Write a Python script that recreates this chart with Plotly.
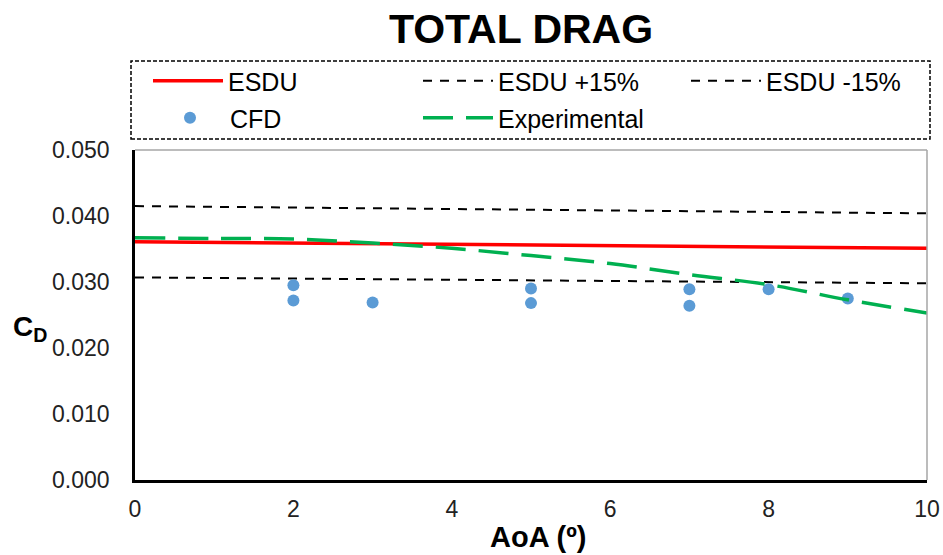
import plotly.graph_objects as go

# ---- data ----
aoa_line = [0, 1, 2, 3, 4, 5, 6, 7, 8, 9, 10]
esdu = [0.0361, 0.0360, 0.0359, 0.0358, 0.0357, 0.0356, 0.0355, 0.0354, 0.0353, 0.0352, 0.0351]
esdu_plus15 = [0.0415, 0.0414, 0.0413, 0.0412, 0.0411, 0.0409, 0.0408, 0.0407, 0.0406, 0.0405, 0.0404]
esdu_minus15 = [0.0307, 0.0306, 0.0305, 0.0304, 0.0303, 0.0303, 0.0302, 0.0301, 0.0300, 0.0299, 0.0298]
experimental = [0.0367, 0.0366, 0.0365, 0.0359, 0.0351, 0.0340, 0.0328, 0.0311, 0.0296, 0.0273, 0.0253]

cfd_aoa = [2, 2, 3, 5, 5, 7, 7, 8, 9]
cfd_cd = [0.0295, 0.0272, 0.0269, 0.0290, 0.0268, 0.0289, 0.0264, 0.0289, 0.0275]

x_ticks = [0, 2, 4, 6, 8, 10]
y_ticks = [0.0, 0.01, 0.02, 0.03, 0.04, 0.05]

FONT = "Liberation Sans, Arial, sans-serif"

fig = go.Figure()
fig.add_trace(go.Scatter(x=aoa_line, y=esdu_plus15, mode="lines", name="ESDU +15%",
                         line=dict(color="black", width=2, dash="9px,8px"), legend="legend2"))
fig.add_trace(go.Scatter(x=aoa_line, y=esdu_minus15, mode="lines", name="ESDU -15%",
                         line=dict(color="black", width=2, dash="9px,8px"), legend="legend3"))
fig.add_trace(go.Scatter(x=cfd_aoa, y=cfd_cd, mode="markers", name="CFD",
                         marker=dict(color="#5B9BD5", size=12), legend="legend4"))
fig.add_trace(go.Scatter(x=aoa_line, y=esdu, mode="lines", name="ESDU",
                         line=dict(color="#FF0000", width=3.5), legend="legend"))
fig.add_trace(go.Scatter(x=aoa_line, y=experimental, mode="lines", name="Experimental",
                         line=dict(color="#00B050", width=3.5, dash="30px,13px", shape="spline"),
                         legend="legend5"))

L, R, T, B = 135, 16, 150, 75
W, H = 943, 555
pw, ph = W - L - R, H - T - B

def px2x(px):
    return (px - L) / pw

def py2y(py):
    return (H - B - py) / ph

def cx(px):
    return px / W

def cy(py):
    return 1 - py / H

leg_common = dict(font=dict(family=FONT, size=25, color="black"), bgcolor="rgba(0,0,0,0)",
                  borderwidth=0, xanchor="left", yanchor="middle", itemwidth=70,
                  visible=True, xref="container", yref="container")
fig.update_layout(
    showlegend=True,
    legend=dict(x=cx(148), y=cy(81), **leg_common),
    legend2=dict(x=cx(418), y=cy(81), **leg_common),
    legend3=dict(x=cx(686), y=cy(81), **leg_common),
    legend4=dict(x=cx(150), y=cy(118), **leg_common),
    legend5=dict(x=cx(418), y=cy(118), **leg_common),
)

fig.update_layout(
    width=W, height=H,
    margin=dict(l=L, r=R, t=T, b=B, autoexpand=False),
    paper_bgcolor="white", plot_bgcolor="white",
    font=dict(family=FONT, color="black"),
    title=dict(text="<b>TOTAL DRAG</b>", x=521 / W, xref="container", xanchor="center",
               y=1 - 29 / H, yref="container", yanchor="middle",
               font=dict(family=FONT, size=41, color="black")),
    xaxis=dict(range=[0, 10], tickvals=x_ticks, ticktext=[str(v) for v in x_ticks],
               showgrid=False, zeroline=False, showline=True, linecolor="black", linewidth=2.5,
               ticks="", ticklabelstandoff=7, tickfont=dict(family=FONT, size=23, color="#222")),
    yaxis=dict(range=[0, 0.05], tickvals=y_ticks, ticktext=[f"{v:.3f}" for v in y_ticks],
               showgrid=False, zeroline=False, showline=True, linecolor="black", linewidth=2.5,
               ticks="", ticklabelstandoff=18, tickfont=dict(family=FONT, size=23, color="#222")),
    shapes=[
        dict(type="line", xref="paper", yref="paper", x0=0, x1=1, y0=1, y1=1,
             line=dict(color="#A6A6A6", width=1.5)),
        dict(type="line", xref="paper", yref="paper", x0=1, x1=1, y0=0, y1=1,
             line=dict(color="#A6A6A6", width=1.5)),
        dict(type="rect", xref="paper", yref="paper", x0=px2x(131), x1=px2x(930),
             y0=py2y(139), y1=py2y(61), line=dict(color="black", width=1.5, dash="4px,2px")),
    ],
    annotations=[
        dict(text="<b>AoA (º)</b>", xref="paper", yref="paper", x=px2x(538), y=py2y(537),
             showarrow=False, xanchor="center", yanchor="middle",
             font=dict(family=FONT, size=29, color="black")),
        dict(text="<b>C<sub>D</sub></b>", xref="paper", yref="paper", x=px2x(30), y=py2y(328),
             showarrow=False, xanchor="center", yanchor="middle",
             font=dict(family=FONT, size=28, color="black")),
    ],
)

fig.write_html("out.html")
